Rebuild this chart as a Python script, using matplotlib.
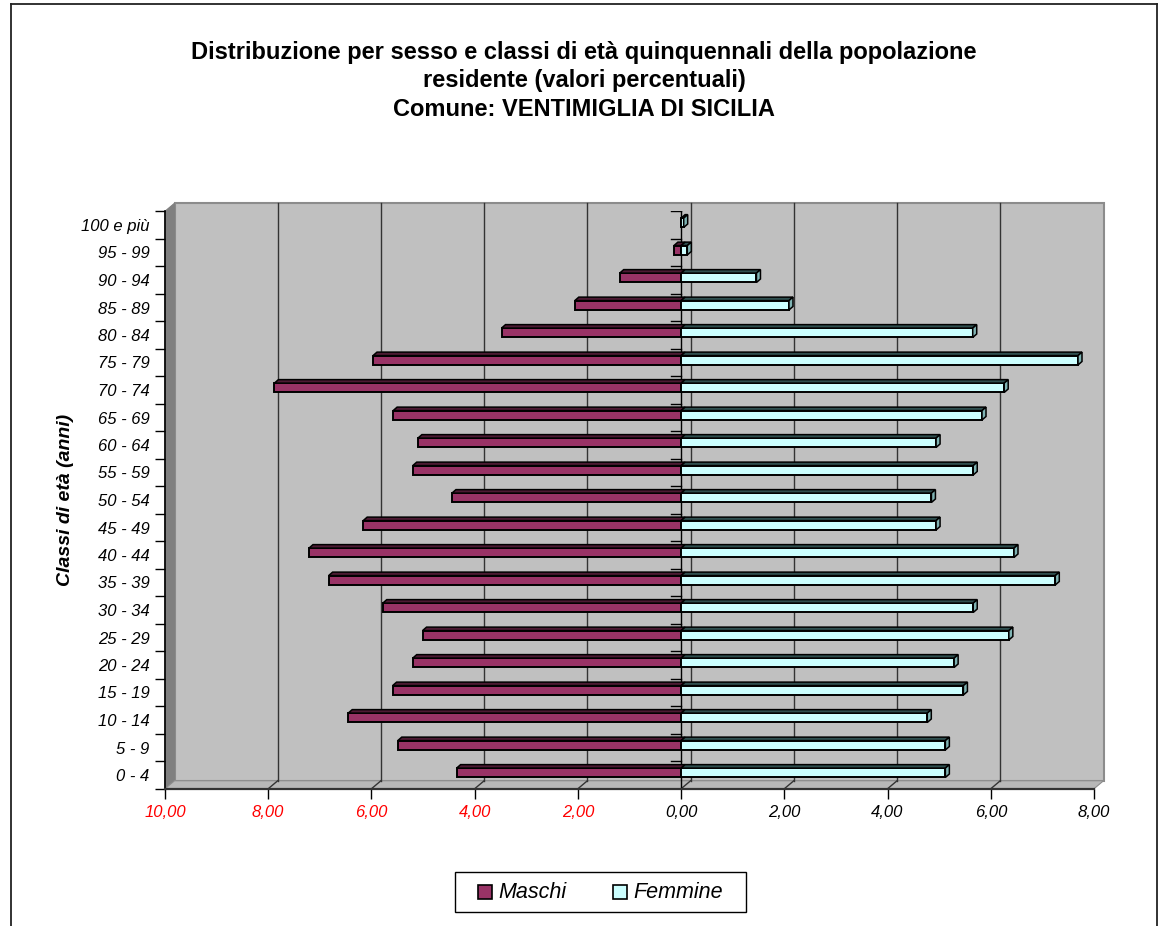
import matplotlib
matplotlib.use('Agg')
import matplotlib.pyplot as plt
from matplotlib.patches import Polygon, Rectangle
from matplotlib.lines import Line2D

plt.rcParams['font.family'] = ['Liberation Sans', 'DejaVu Sans']

# %% data (percent values)

classi = ['0 - 4', '5 - 9', '10 - 14', '15 - 19', '20 - 24', '25 - 29', '30 - 34',
          '35 - 39', '40 - 44', '45 - 49', '50 - 54', '55 - 59', '60 - 64', '65 - 69',
          '70 - 74', '75 - 79', '80 - 84', '85 - 89', '90 - 94', '95 - 99', '100 e più']

maschi = [4.35, 5.49, 6.45, 5.59, 5.20, 5.01, 5.78, 6.83, 7.21, 6.16, 4.44,
          5.20, 5.10, 5.58, 7.88, 5.97, 3.48, 2.06, 1.19, 0.14, 0.00]

femmine = [5.12, 5.12, 4.77, 5.47, 5.29, 6.35, 5.66, 7.25, 6.45, 4.94, 4.85,
           5.66, 4.94, 5.83, 6.26, 7.69, 5.65, 2.09, 1.46, 0.12, 0.05]

x_ticks = [-10, -8, -6, -4, -2, 0, 2, 4, 6, 8]
x_labels = ['10,00', '8,00', '6,00', '4,00', '2,00', '0,00', '2,00', '4,00', '6,00', '8,00']

col_m = '#993366'
col_f = '#CCFFFF'

# %% figure

W, H = 1166, 926
fig = plt.figure(figsize=(W / 100, H / 100), dpi=100)


def fx(px):
    return px / W


def fy(py):
    return 1 - py / H


# front plane of the pseudo-3D box
ax = fig.add_axes([fx(165), fy(788.75), fx(1094) - fx(165), fy(211.25) - fy(788.75)])
ax.set_xlim(-10, 8)
ax.set_ylim(-0.5, 20.5)
ax.patch.set_visible(False)

# depth offsets (data units) : back wall and bar depth
dx, dy = 9.5 / 51.6, 8 / 27.5
bx, by = 4 / 51.6, 3.5 / 27.5

# back wall, left wall, floor
ax.add_patch(Polygon([(-10 + dx, -0.5 + dy), (8 + dx, -0.5 + dy), (8 + dx, 20.5 + dy), (-10 + dx, 20.5 + dy)],
                     fc='#C0C0C0', ec='#8c8c8c', lw=1.5, clip_on=False, zorder=0))
ax.add_patch(Polygon([(-10, -0.5), (-10, 20.5), (-10 + dx, 20.5 + dy), (-10 + dx, -0.5 + dy)],
                     fc='#808080', ec='#808080', lw=0.8, clip_on=False, zorder=0.5))
ax.add_patch(Polygon([(-10, -0.5), (8, -0.5), (8 + dx, -0.5 + dy), (-10 + dx, -0.5 + dy)],
                     fc='#B8B8B8', ec='#8c8c8c', lw=0.8, clip_on=False, zorder=0.5))

# gridlines on the wall and the floor
for v in x_ticks[1:-1]:
    ax.plot([v + dx, v + dx], [-0.5 + dy, 20.5 + dy], color='#333333', lw=1.0, clip_on=False, zorder=0.6)
    ax.plot([v, v + dx], [-0.5, -0.5 + dy], color='#333333', lw=1.0, clip_on=False, zorder=0.6)

# category axis at zero with its small ticks
ax.plot([0, 0], [-0.5, 20.5], color='black', lw=1.0, zorder=1)
for i in range(22):
    ax.plot([-10 / 51.6, 0], [i - 0.5, i - 0.5], color='black', lw=1.0, zorder=1)

# %% bars

y = [i + 0.08 for i in range(len(classi))]
h = 0.34

ax.barh(y, [-m for m in maschi], height=h, color=col_m, edgecolor='black', lw=1.4, zorder=2)
ax.barh(y, femmine, height=h, color=col_f, edgecolor='black', lw=1.4, zorder=2)

for yc, m, f in zip(y, maschi, femmine):
    top = yc + h / 2
    bot = yc - h / 2
    if m > 0:
        ax.add_patch(Polygon([(-m, top), (0, top), (bx, top + by), (-m + bx, top + by)],
                             fc='#4d1a33', ec='black', lw=1.1, zorder=2.1))
    ax.add_patch(Polygon([(0, top), (f, top), (f + bx, top + by), (bx, top + by)],
                         fc='#2f4f4f', ec='black', lw=1.1, zorder=2.1))
    ax.add_patch(Polygon([(f, bot), (f, top), (f + bx, top + by), (f + bx, bot + by)],
                         fc='#7fb3b3', ec='black', lw=1.1, zorder=2.2))

# %% axes, ticks, labels

for s in ['top', 'right']:
    ax.spines[s].set_visible(False)
ax.spines['left'].set_linewidth(1.2)
ax.spines['bottom'].set_linewidth(1.6)
ax.spines['bottom'].set_color('#333333')

ax.set_xticks(x_ticks)
ax.set_xticklabels(x_labels, fontsize=12, fontstyle='italic')
for lab, v in zip(ax.get_xticklabels(), x_ticks):
    lab.set_color('red' if v < 0 else 'black')
ax.tick_params(axis='x', length=7, width=1, pad=5)

ax.set_yticks([i - 0.5 for i in range(22)])
ax.set_yticklabels([])
ax.set_yticks(list(range(len(classi))), minor=True)
ax.set_yticklabels(classi, minor=True, fontsize=12, fontstyle='italic')
ax.tick_params(axis='y', which='major', length=7, width=1)
ax.tick_params(axis='y', which='minor', length=0, pad=11)

fig.text(fx(65), fy(500), 'Classi di età (anni)', rotation=90, fontsize=14,
         fontweight='bold', fontstyle='italic', ha='center', va='center')

# title
titolo = ['Distribuzione per sesso e classi di età quinquennali della popolazione',
          'residente (valori percentuali)',
          'Comune: VENTIMIGLIA DI SICILIA']
for t, yy in zip(titolo, [53, 81, 109]):
    fig.text(fx(584), fy(yy), t, fontsize=17, fontweight='bold', ha='center', va='center')

# legend (drawn by hand to match the boxed Excel legend)
fig.add_artist(Rectangle((fx(455), fy(912)), fx(746) - fx(455), fy(872) - fy(912),
                         transform=fig.transFigure, fc='white', ec='black', lw=1.0))
for x0, col, lab in [(478, col_m, 'Maschi'), (613, col_f, 'Femmine')]:
    fig.add_artist(Rectangle((fx(x0), fy(899)), fx(14), fy(885) - fy(899),
                             transform=fig.transFigure, fc=col, ec='black', lw=1.2))
    fig.text(fx(x0 + 20), fy(892), lab, fontsize=15.5, fontstyle='italic', ha='left', va='center')

# outer chart border
for xs, ys in [([11, 11], [4, 930]), ([11, 1157], [4, 4]), ([1157, 1157], [4, 930])]:
    fig.add_artist(Line2D([fx(v) for v in xs], [fy(v) for v in ys],
                          transform=fig.transFigure, color='#222222', lw=1.3))

plt.savefig('out.png', dpi=100)
